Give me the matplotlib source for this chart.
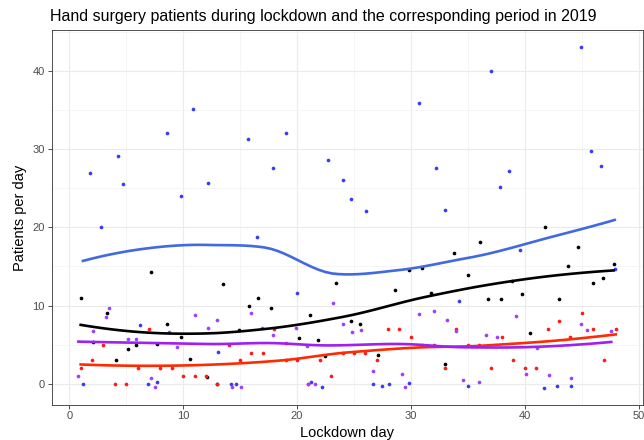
import matplotlib
matplotlib.use("Agg")
import matplotlib.pyplot as plt
import numpy as np

# 2019 (blue) and lockdown (black, red, purple) daily counts
blue_day = [1.2, 1.8, 2.8, 4.3, 4.7, 6.2, 6.9, 7.7, 8.6, 9.8, 10.9, 12.2, 13.1, 14.2, 14.6, 15.7,
            16.5, 17.9, 19.0, 20.0, 21.2, 22.2, 22.7, 24.0, 24.7, 26.1, 26.7, 27.5, 28.1,
            29.8, 30.7, 32.2, 33.0, 34.2, 35.0, 37.0, 37.8, 38.6, 39.6, 41.7, 42.8, 44.1,
            44.9, 45.8, 46.7, 47.9]
blue_val = [0.0, 27.0, 20.1, 29.1, 25.6, 7.5, 0.0, 0.2, 32.0, 24.0, 35.1, 25.7, 4.1, 0.0, 0.0, 31.3,
            18.8, 27.6, 32.0, 11.6, 0.3, -0.4, 28.6, 26.1, 23.6, 22.1, 0.0, -0.3, 0.0,
            0.1, 35.9, 27.6, 22.2, 10.6, -0.3, 40.0, 25.1, 27.2, 17.1, -0.5, -0.3, -0.3,
            43.0, 29.7, 27.9, 14.7]

black_day = [1.0, 2.1, 3.3, 4.1, 5.2, 5.9, 7.2, 7.7, 8.6, 9.8, 10.6, 12.1, 13.0, 13.5, 14.9, 15.8,
             16.6, 17.7, 20.2, 21.1, 21.8, 22.5, 23.4, 24.7, 25.5, 27.1, 28.6, 29.8, 31.0, 31.8,
             33.0, 33.8, 35.0, 36.1, 36.8, 37.9, 38.9, 39.8, 40.5, 41.8, 43.0, 43.8, 44.7, 46.0,
             46.9, 47.8]
black_val = [11.0, 5.3, 9.0, 3.0, 4.5, 5.0, 14.3, 5.1, 7.6, 6.0, 3.2, 0.9, 0.0, 12.7, 6.9, 9.9,
             11.0, 9.7, 5.8, 8.8, 5.6, 3.5, 12.9, 8.0, 7.7, 3.7, 12.0, 14.6, 14.8, 11.6,
             2.6, 16.7, 13.9, 18.1, 10.9, 10.9, 13.2, 11.5, 6.5, 20.0, 10.8, 15.0, 17.5, 12.9,
             13.5, 15.3]

red_day = list(range(1, 49))
red_val = [2, 3, 5, 0, 0, 2, 7, 2, 2, 1, 1, 1, 0, 5, 3, 4, 4, 7, 3, 3, 0, 3, 1, 4,
           4, 4, 3, 7, 7, 6, 5, 5, 2, 7, 5, 5, 2, 6, 3, 2, 2, 7, 8, 6, 9, 7, 3, 7]

purple_day = [0.8, 2.1, 3.2, 3.5, 5.2, 5.9, 7.2, 7.5, 8.8, 9.5, 11.0, 12.2, 13.0, 14.3, 15.1, 16.0,
              16.9, 17.9, 19.0, 19.9, 20.9, 21.0, 21.6, 23.2, 24.0, 24.8, 25.6, 26.7, 29.2,
              29.5, 30.7, 32.0, 33.2, 34.0, 34.6, 36.0, 36.6, 37.6, 39.2, 40.1, 41.1, 42.1,
              44.1, 44.9, 45.5, 47.6]
purple_val = [1.0, 6.8, 8.6, 9.7, 5.7, 5.7, 0.7, -0.4, 6.6, 4.7, 8.8, 7.1, 8.1, -0.4, -0.4, 9.0,
              7.2, 6.2, 5.2, 7.2, 4.9, 0.0, 0.0, 10.3, 7.6, 6.6, 6.9, 1.7, 1.2,
              -0.4, 8.9, 9.3, 8.1, 6.7, 0.55, 0.2, 6.3, 6.0, 8.7, 1.3, 4.6, 1.1,
              0.7, 7.6, 6.9, 6.7]


def local_fit(x, y, x0, q):
    # weighted quadratic around x0, tricube weights on the q nearest points
    d = np.abs(x - x0)
    dmax = np.sort(d)[q - 1]
    w = np.clip(1 - (d / dmax) ** 3, 0, None) ** 3
    X = np.column_stack([np.ones_like(x), x - x0, (x - x0) ** 2])
    W = np.sqrt(w)
    coef = np.linalg.lstsq(X * W[:, None], y * W, rcond=None)[0]
    return coef[0], coef[1]


def split_cells(xs, fc):
    # kd-tree style vertices, like R's loess "interpolate" surface
    if len(xs) <= fc:
        return []
    m = len(xs) // 2
    cut = 0.5 * (xs[m - 1] + xs[m]) if len(xs) % 2 == 0 else xs[m]
    left = xs[xs <= cut]
    right = xs[xs >= cut]
    return split_cells(left, fc) + [cut] + split_cells(right, fc)


def loess(x, y, span=0.75, n_out=80):
    x = np.asarray(x, float)
    y = np.asarray(y, float)
    q = int(np.floor(len(x) * span))
    xsort = np.sort(x)
    fc = int(np.floor(len(x) * span * 0.2))
    verts = np.array([xsort[0]] + split_cells(xsort, fc) + [xsort[-1]])
    vals = []
    slopes = []
    for v in verts:
        f, s = local_fit(x, y, v, q)
        vals.append(f)
        slopes.append(s)
    xs = np.linspace(x.min(), x.max(), n_out)
    ys = np.empty_like(xs)
    for k, x0 in enumerate(xs):
        i = min(np.searchsorted(verts, x0, side='right') - 1, len(verts) - 2)
        h = verts[i + 1] - verts[i]
        t = (x0 - verts[i]) / h
        h00 = 2 * t ** 3 - 3 * t ** 2 + 1
        h10 = t ** 3 - 2 * t ** 2 + t
        h01 = -2 * t ** 3 + 3 * t ** 2
        h11 = t ** 3 - t ** 2
        ys[k] = (h00 * vals[i] + h10 * h * slopes[i]
                 + h01 * vals[i + 1] + h11 * h * slopes[i + 1])
    return xs, ys


plt.rcParams['font.family'] = ['Liberation Sans', 'DejaVu Sans']

fig = plt.figure(figsize=(6.44, 4.40), dpi=100)
ax = fig.add_axes([0.080, 0.080, 0.918, 0.851])

series = [
    (blue_day, blue_val, "#3b3bf5", "#4169e1"),
    (black_day, black_val, "black", "black"),
    (red_day, red_val, "#ff1a1a", "#ff2a00"),
    (purple_day, purple_val, "#a040ff", "#a020f0"),
]

for days, vals, pc, lc in series:
    ax.scatter(days, vals, s=7, color=pc, linewidths=0, zorder=3)
for days, vals, pc, lc in series:
    sx, sy = loess(days, vals)
    ax.plot(sx, sy, color=lc, linewidth=1.9, zorder=4)

ax.margins(0.05)
ax.set_xticks([0, 10, 20, 30, 40, 50])
ax.set_yticks([0, 10, 20, 30, 40])
ax.set_xticks([5, 15, 25, 35, 45], minor=True)
ax.set_yticks([5, 15, 25, 35, 45], minor=True)
ax.grid(True, which='major', color='#ebebeb', linewidth=0.8)
ax.grid(True, which='minor', color='#f2f2f2', linewidth=0.5)
ax.set_axisbelow(True)
ax.tick_params(which='major', length=2.8, width=0.6, color='#333333',
               labelsize=8, labelcolor='#4d4d4d', pad=2)
ax.tick_params(which='minor', length=0)
for sp in ax.spines.values():
    sp.set_color('#333333')
    sp.set_linewidth(0.6)

ax.set_xlabel("Lockdown day", fontsize=10.5, labelpad=3)
ax.set_ylabel("Patients per day", fontsize=10.5, labelpad=4)
ax.set_title("Hand surgery patients during lockdown and the corresponding period in 2019",
             fontsize=11.5, loc='left', x=-0.003, pad=7)

fig.savefig("out.png", dpi=100)
